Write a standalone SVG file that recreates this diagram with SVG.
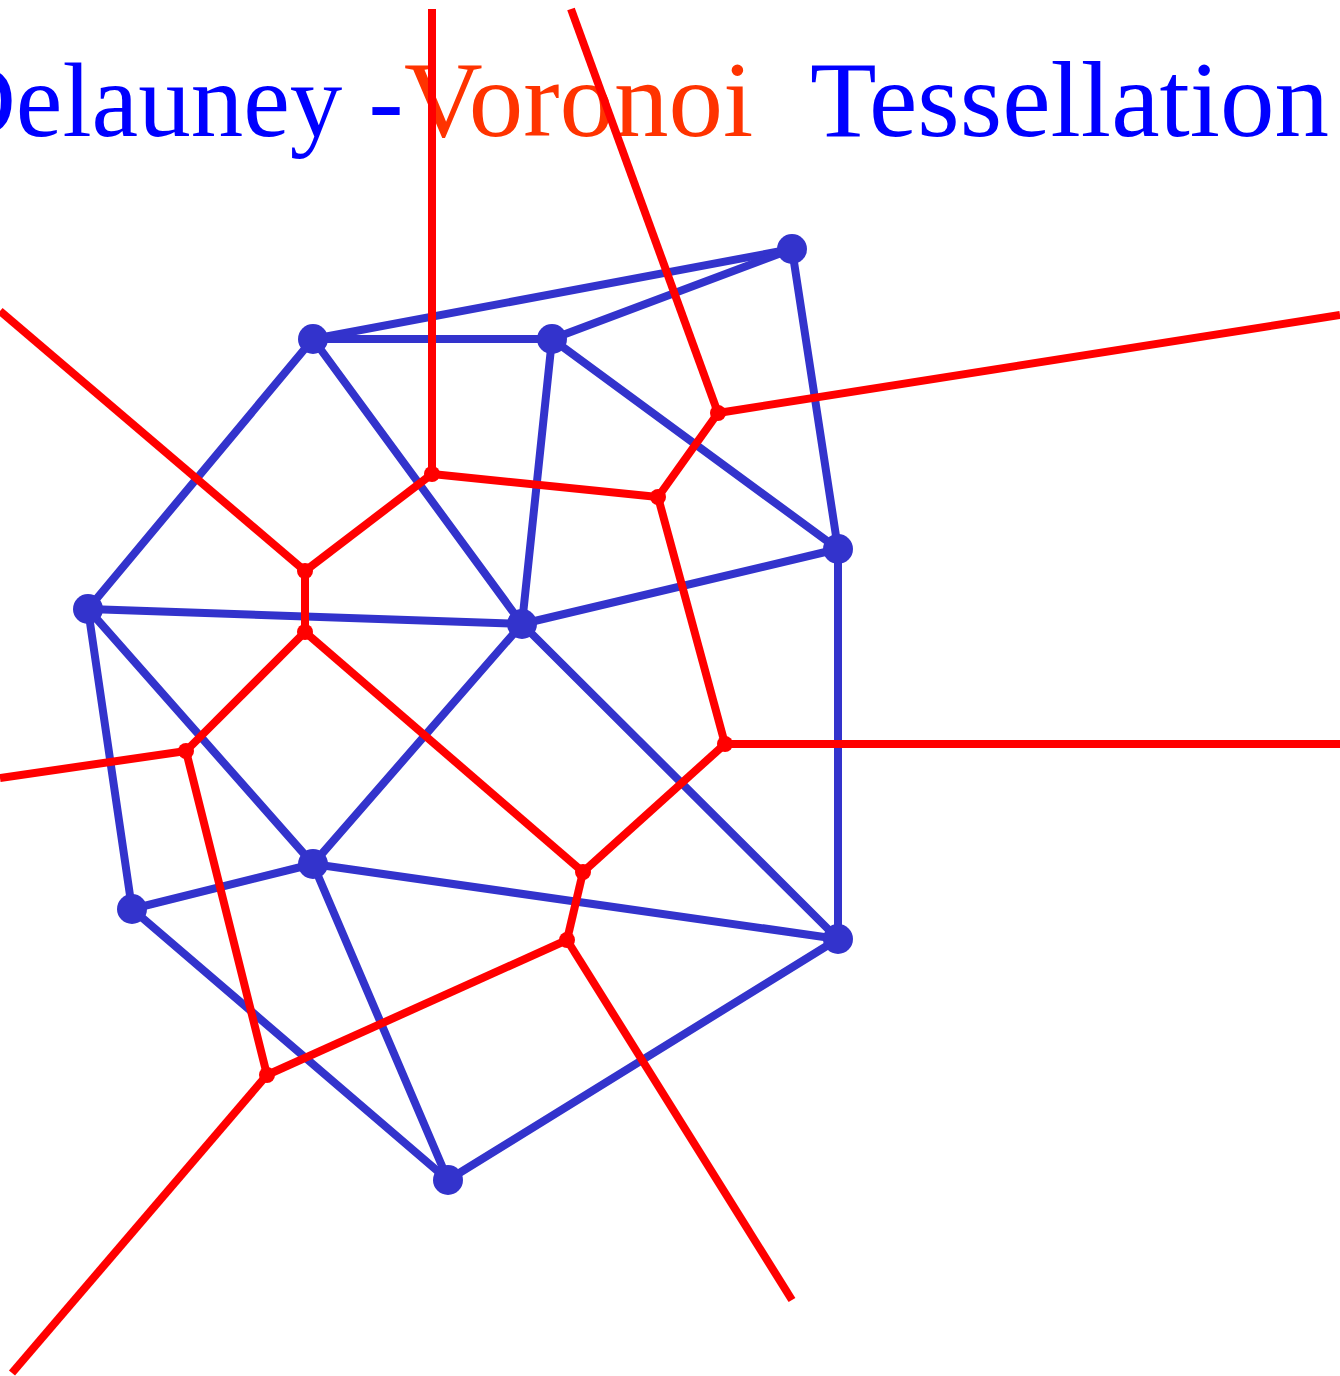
<svg xmlns="http://www.w3.org/2000/svg" width="1340" height="1376" viewBox="0 0 1340 1376">
<style>
.t{font-family:"Liberation Serif","Times New Roman",serif;font-size:109px}
.b{fill:#0000ff}.o{fill:#ff3300}
.s{font-size:105px}
.de line{stroke:#3333cc;stroke-width:8;stroke-linecap:round}
.vo line{stroke:#ff0000;stroke-width:8;stroke-linecap:butt}
.pt{fill:#3333cc}
.vv{fill:#ff0000}
</style>
<rect width="1340" height="1376" fill="#ffffff"/>
<g id="title">
<text class="t" y="136"><tspan class="b s" x="-60">Delauney -</tspan><tspan class="o" x="404">Voronoi</tspan><tspan class="b" x="810">Tessellation</tspan></text>
</g>
<g id="connectors">
<g class="de">
<line x1="313" y1="339" x2="792" y2="249"/>
<line x1="552" y1="339" x2="792" y2="249"/>
<line x1="313" y1="339" x2="552" y2="339"/>
<line x1="792" y1="249" x2="838" y2="549"/>
<line x1="552" y1="339" x2="838" y2="549"/>
<line x1="313" y1="339" x2="88" y2="609"/>
<line x1="313" y1="339" x2="522" y2="624"/>
<line x1="552" y1="339" x2="522" y2="624"/>
<line x1="838" y1="549" x2="522" y2="624"/>
<line x1="838" y1="549" x2="838" y2="939"/>
<line x1="88" y1="609" x2="522" y2="624"/>
<line x1="88" y1="609" x2="313" y2="864"/>
<line x1="88" y1="609" x2="132" y2="909"/>
<line x1="522" y1="624" x2="313" y2="864"/>
<line x1="522" y1="624" x2="838" y2="939"/>
<line x1="313" y1="864" x2="132" y2="909"/>
<line x1="313" y1="864" x2="838" y2="939"/>
<line x1="313" y1="864" x2="448" y2="1180"/>
<line x1="132" y1="909" x2="448" y2="1180"/>
<line x1="838" y1="939" x2="448" y2="1180"/>
</g>
<g class="vo">
<line x1="432" y1="9" x2="432" y2="474"/>
<line x1="432" y1="474" x2="658" y2="497"/>
<line x1="658" y1="497" x2="718" y2="413"/>
<line x1="571" y1="9" x2="718" y2="413"/>
<line x1="718" y1="413" x2="1340" y2="315"/>
<line x1="432" y1="474" x2="305" y2="571"/>
<line x1="0" y1="311" x2="305" y2="571"/>
<line x1="305" y1="571" x2="305" y2="632"/>
<line x1="305" y1="632" x2="186" y2="751"/>
<line x1="305" y1="632" x2="583" y2="872"/>
<line x1="0" y1="778" x2="186" y2="751"/>
<line x1="186" y1="751" x2="267" y2="1075"/>
<line x1="267" y1="1075" x2="12" y2="1373"/>
<line x1="267" y1="1075" x2="567" y2="940"/>
<line x1="567" y1="940" x2="583" y2="872"/>
<line x1="583" y1="872" x2="725" y2="744"/>
<line x1="725" y1="744" x2="658" y2="497"/>
<line x1="725" y1="744" x2="1340" y2="744"/>
<line x1="567" y1="940" x2="792" y2="1300"/>
</g>
</g>
<g id="voronoi-vertices">
<circle id="v1" class="vv" cx="432" cy="474" r="8"/>
<circle id="v2" class="vv" cx="658" cy="497" r="8"/>
<circle id="v3" class="vv" cx="718" cy="413" r="8"/>
<circle id="v4" class="vv" cx="305" cy="571" r="8"/>
<circle id="v5" class="vv" cx="305" cy="632" r="8"/>
<circle id="v6" class="vv" cx="186" cy="751" r="8"/>
<circle id="v7" class="vv" cx="725" cy="744" r="8"/>
<circle id="v8" class="vv" cx="583" cy="872" r="8"/>
<circle id="v9" class="vv" cx="567" cy="940" r="8"/>
<circle id="v10" class="vv" cx="267" cy="1075" r="8"/>
</g>
<g id="sites">
<g id="p1"><circle class="pt" cx="792" cy="249" r="15"/></g>
<g id="p2"><circle class="pt" cx="313" cy="339" r="15"/></g>
<g id="p3"><circle class="pt" cx="552" cy="339" r="15"/></g>
<g id="p4"><circle class="pt" cx="838" cy="549" r="15"/></g>
<g id="p5"><circle class="pt" cx="88" cy="609" r="15"/></g>
<g id="p6"><circle class="pt" cx="522" cy="624" r="15"/></g>
<g id="p7"><circle class="pt" cx="313" cy="864" r="15"/></g>
<g id="p8"><circle class="pt" cx="132" cy="909" r="15"/></g>
<g id="p9"><circle class="pt" cx="838" cy="939" r="15"/></g>
<g id="p10"><circle class="pt" cx="448" cy="1180" r="15"/></g>
</g>
</svg>
